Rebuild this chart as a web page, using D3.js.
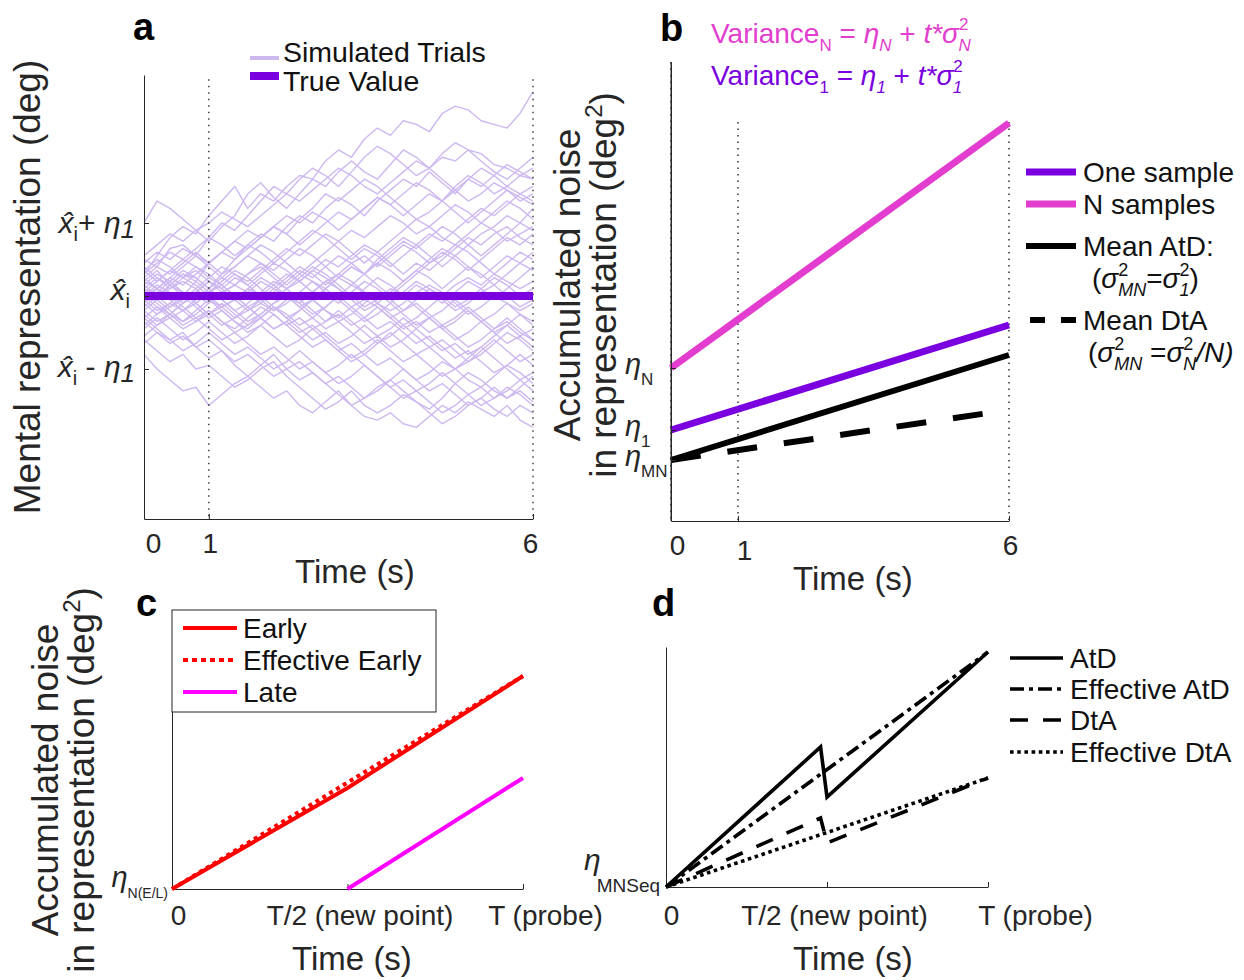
<!DOCTYPE html>
<html><head><meta charset="utf-8">
<script src="https://cdn.jsdelivr.net/npm/d3@7"></script>
<style>body{margin:0;background:#fff}svg{font-family:"Liberation Sans",Arial,sans-serif}</style>
</head><body><svg id="c" width="1244" height="980"></svg>
<script>
// ---------- DATA ----------
// Panel a: simulated trials (units of eta_1 * 100), sampled at these times (s)
const aTimes = [0,0.2,0.4,0.6,0.8,1,1.2,1.4,1.6,1.8,2,2.2,2.4,2.6,2.8,3,3.2,3.4,3.6,3.8,4,4.2,4.4,4.6,4.8,5,5.2,5.4,5.6,5.8,6];
const aTrials = [
[30,55,80,95,85,110,130,150,120,140,130,150,165,160,185,200,190,215,230,220,240,235,225,250,260,255,240,235,230,250,280],
[100,130,120,105,90,75,95,110,140,155,135,120,140,160,150,170,185,170,160,180,200,190,175,195,210,200,185,170,160,175,190],
[50,40,65,70,55,80,100,90,110,130,150,140,160,175,165,150,170,190,205,195,180,165,175,190,185,200,195,180,175,165,160],
[-80,-100,-115,-130,-125,-150,-135,-120,-110,-125,-140,-130,-150,-160,-145,-130,-150,-165,-170,-160,-175,-180,-165,-150,-160,-145,-155,-165,-150,-170,-180],
[-60,-75,-90,-80,-100,-95,-110,-125,-115,-100,-90,-110,-125,-140,-155,-145,-130,-150,-160,-150,-135,-145,-160,-175,-165,-150,-140,-155,-165,-150,-160],
[-30,-45,-60,-50,-70,-85,-75,-95,-110,-95,-80,-100,-115,-105,-120,-135,-150,-140,-125,-115,-130,-145,-155,-140,-120,-105,-115,-130,-140,-125,-110],
[20,35,15,0,20,45,60,50,70,85,75,95,110,100,120,135,125,110,130,145,160,150,170,155,140,160,175,165,150,140,130],
[10,-5,15,30,25,10,30,50,65,80,95,85,105,120,140,130,145,160,150,135,120,105,115,130,150,165,155,140,150,165,175],
[0,15,5,-10,5,20,10,-5,-20,-10,5,20,35,25,40,55,45,30,50,65,80,70,55,40,55,70,85,95,110,100,120],
[-10,-25,-15,0,-15,-30,-20,-35,-50,-40,-55,-70,-60,-45,-60,-75,-65,-80,-95,-85,-100,-115,-105,-90,-100,-115,-125,-110,-95,-105,-120],
[25,40,30,45,60,45,30,40,55,70,60,45,30,45,60,75,90,80,95,110,100,85,95,110,125,115,100,115,130,120,105],
[-20,-5,-20,-35,-25,-10,5,-5,10,25,15,0,-15,-5,10,-5,-20,-35,-25,-10,5,20,10,-5,-20,-10,5,15,0,-15,-5],
[40,25,10,25,15,0,-15,-5,10,0,-15,-30,-20,-5,10,25,15,30,45,35,20,35,50,65,55,40,25,40,55,45,60],
[-45,-30,-45,-60,-50,-35,-50,-65,-55,-40,-25,-40,-55,-70,-60,-75,-90,-80,-65,-50,-65,-80,-70,-85,-100,-90,-75,-60,-75,-90,-80],
[5,20,35,25,40,30,15,30,20,35,50,65,55,70,85,75,60,45,60,75,90,105,95,80,70,85,100,90,75,85,95],
[-5,-20,-10,5,-10,-25,-40,-30,-15,-30,-45,-35,-20,-5,-20,-35,-25,-10,5,-10,-25,-40,-30,-45,-60,-50,-35,-50,-65,-55,-70],
[15,0,-15,-5,10,25,15,0,-15,-30,-45,-35,-50,-40,-55,-70,-85,-75,-60,-75,-90,-80,-95,-110,-100,-85,-70,-85,-100,-115,-105],
[30,45,60,50,65,80,70,55,70,60,45,60,75,90,80,65,50,65,55,40,55,70,85,75,90,105,120,110,125,140,150],
[-25,-40,-30,-45,-35,-20,-35,-50,-40,-25,-10,5,-10,-25,-15,0,15,5,-10,5,20,35,25,10,25,40,30,15,30,45,35],
[10,25,15,30,20,5,20,35,25,10,-5,10,25,40,30,15,0,-15,-5,10,0,-15,-30,-20,-5,-20,-35,-25,-10,-25,-40],
[-15,0,15,5,-10,-25,-15,-30,-20,-5,-20,-10,5,20,10,25,40,30,15,0,15,30,45,60,50,35,50,65,80,70,85],
[35,20,35,50,40,25,40,30,15,30,45,35,20,5,20,10,-5,10,25,15,0,15,5,-10,5,20,10,-5,10,25,40],
[-35,-50,-65,-55,-70,-60,-75,-90,-80,-95,-110,-100,-90,-105,-120,-110,-125,-140,-130,-115,-100,-115,-130,-120,-135,-150,-140,-125,-140,-130,-145],
[0,-15,-30,-20,-35,-25,-10,-25,-40,-30,-15,-30,-45,-60,-50,-65,-55,-40,-55,-45,-30,-45,-60,-75,-65,-80,-70,-55,-40,-55,-45],
[20,10,25,40,55,45,60,75,65,80,95,110,100,115,105,90,105,120,135,125,140,155,145,130,145,160,150,165,180,170,160],
[-55,-40,-25,-35,-20,-5,-20,-35,-45,-30,-15,-25,-40,-30,-15,0,-15,-30,-45,-35,-50,-65,-55,-70,-85,-75,-90,-105,-95,-80,-95],
[45,60,50,65,55,40,25,40,55,45,30,15,30,20,5,-10,5,20,10,-5,-20,-10,-25,-40,-30,-15,-30,-45,-35,-50,-60],
[-10,5,20,35,25,10,25,15,30,45,35,50,65,55,40,25,40,30,45,60,75,65,80,95,85,70,55,70,85,100,90],
[15,30,20,5,-10,5,-5,-20,-35,-25,-10,0,-15,-30,-45,-35,-50,-65,-55,-70,-60,-45,-30,-45,-35,-20,-35,-50,-40,-25,-35],
[-40,-25,-10,-20,-5,10,-5,-20,-10,5,20,10,-5,-20,-35,-25,-40,-30,-15,-30,-45,-35,-50,-40,-55,-70,-60,-45,-30,-45,-60],
[5,-10,-25,-40,-30,-45,-60,-50,-65,-80,-70,-85,-100,-90,-105,-95,-80,-95,-110,-125,-115,-130,-120,-105,-120,-135,-125,-140,-130,-115,-130],
[25,10,25,15,30,45,60,75,90,80,95,85,70,85,100,115,105,120,135,125,110,125,140,130,115,100,115,130,145,135,125],
[-20,-35,-25,-10,5,20,10,25,15,0,15,30,20,35,25,10,-5,-20,-10,-25,-40,-30,-15,0,-15,-5,10,25,15,0,10],
[0,10,-5,-20,-10,5,15,0,-15,-5,10,25,40,30,15,30,45,55,40,55,70,60,45,55,70,60,45,30,45,60,50],
[-65,-50,-60,-75,-65,-50,-65,-80,-70,-85,-100,-90,-75,-90,-105,-120,-110,-95,-110,-125,-140,-130,-145,-160,-150,-135,-150,-140,-125,-135,-150],
[55,70,85,75,90,100,115,105,95,110,125,140,130,145,160,175,165,150,140,155,170,185,175,160,145,130,140,155,145,130,140],
[10,0,10,20,10,-5,-15,-5,5,20,10,0,-10,5,20,30,20,5,-10,-20,-10,5,15,5,-10,-25,-15,0,-10,-20,-10],
[-30,-15,-25,-10,0,-10,5,15,5,-10,-20,-5,5,-5,-20,-30,-15,-5,-15,-30,-20,-5,10,0,15,25,15,30,20,10,20],
[35,50,40,25,35,20,5,15,30,40,25,10,20,35,50,40,55,70,60,45,30,45,35,50,65,80,70,85,95,80,70],
[-5,10,0,-15,-30,-20,-35,-45,-30,-15,-25,-40,-30,-45,-35,-20,-35,-50,-65,-55,-40,-55,-70,-60,-75,-90,-80,-65,-50,-60,-75]
];
const aTrueTimes = [0, 6];
const aTrueValue = [0, 0];
const aXTicks = [0, 1, 6];
const aYTicks = [-1, 0, 1];

// Panel b: accumulated noise (arbitrary units)
const bTimes = [0, 6];
const bOneSample = [9.1, 19.6];
const bNSamples = [15.3, 39.8];
const bMeanAtD = [6.1, 16.6];
const bMeanDtA = [6.1, 11.1];
const bXTicks = [0, 1, 6];
const bYTicks = [6.1, 9.1, 15.3];
const bYTickSubs = ["MN", "1", "N"];

// Panel c
const cTimes = [0, 0.5, 1];
const cEarly = [0, 10.1, 21.3];
const cEffTimes = [0, 1];
const cEffEarly = [0, 21.3];
const cLateTimes = [0.5, 1];
const cLate = [0, 11.1];
const cXTicks = [0, 0.5, 1];
const cdXTickLabels = ["0", "T/2 (new point)", "T (probe)"];

// Panel d
const dTimes = [0, 0.48, 0.5, 1];
const dAtD = [0, 14.0, 9.0, 23.5];
const dDtA = [0, 6.9, 4.4, 10.9];
const dEffTimes = [0, 1];
const dEffAtD = [0, 23.5];
const dEffDtA = [0, 10.9];

// ---------- DRAW ----------
const svg = d3.select("#c");
const AX = "#262626";
const PURPLE = "#7a00e0", PINK = "#e23dce", LIGHT = "#cdb8f0";

function rich(parent, x, y, parts, opt = {}) {
  const t = parent.append("text").attr("x", x).attr("y", y)
    .attr("font-size", opt.size || 28).attr("fill", opt.fill || AX)
    .attr("text-anchor", opt.anchor || "start");
  if (opt.transform) t.attr("transform", opt.transform);
  let cur = 0;
  parts.forEach(p => {
    const s = t.append("tspan").text(p.t);
    const target = p.dy || 0;
    if (target !== cur) s.attr("dy", target - cur);
    cur = target;
    if (p.dx) s.attr("dx", p.dx);
    if (p.fs) s.attr("font-size", p.fs);
    if (p.i) s.attr("font-style", "italic");
  });
  return t;
}
function styleAxis(g) {
  g.selectAll("path,line").attr("stroke", AX).attr("stroke-width", 1);
  g.selectAll("text").attr("fill", AX).attr("font-family", "Liberation Sans, Arial, sans-serif");
}
function panelLetter(x, y, s) {
  svg.append("text").attr("x", x).attr("y", y).attr("font-size", 38)
    .attr("font-weight", "bold").attr("fill", "#000").text(s);
}
function lineXY(xs, ys, xsc, ysc) {
  return d3.line().x((d, i) => xsc(xs[i])).y(d => ysc(d))(ys);
}
function twoLineYLabel(tx, ty) {
  const yl = svg.append("text").attr("transform", `translate(${tx},${ty}) rotate(-90)`).attr("text-anchor", "middle").attr("font-size", 37).attr("fill", AX);
  yl.append("tspan").attr("x", 0).attr("y", 0).text("Accumulated noise");
  const l2 = yl.append("tspan").attr("x", 0).attr("y", 36);
  l2.append("tspan").text("in representation (deg");
  l2.append("tspan").attr("dy", -14).attr("font-size", 24).text("2");
  l2.append("tspan").attr("dy", 14).text(")");
}

// ===== Panel a =====
{
  const x = d3.scaleLinear().domain([0, 6]).range([144, 533]);
  const y = d3.scaleLinear().domain([-3.055, 3.027]).range([519, 75]);
  const g = svg.append("g");
  aTrials.forEach(tr => {
    g.append("path").attr("d", d3.line().x((d, i) => x(aTimes[i])).y(d => y(d / 100))(tr.slice(0, aTimes.length)))
      .attr("fill", "none").attr("stroke", LIGHT).attr("stroke-width", 1.4).attr("stroke-linejoin", "round");
  });
  [1, 6].forEach(t => g.append("line").attr("x1", x(t)).attr("x2", x(t)).attr("y1", y(2.97)).attr("y2", y(-3.055))
    .attr("stroke", "#222").attr("stroke-width", 1.3).attr("stroke-dasharray", "1.5,5"));
  g.append("path").attr("d", lineXY(aTrueTimes, aTrueValue, x, y)).attr("stroke", PURPLE).attr("stroke-width", 8).attr("fill", "none");
  const xa = g.append("g").attr("transform", `translate(0,${y(-3.055)})`)
    .call(d3.axisBottom(x).tickValues(aXTicks).tickSizeInner(-5).tickSizeOuter(0).tickPadding(14).tickFormat(d3.format("d")));
  styleAxis(xa);
  const aOff = [9, 1, -3];
  xa.selectAll("text").attr("font-size", 28).attr("dx", (d, i) => aOff[i]);
  const ya = g.append("g").attr("transform", `translate(${x(0)},0)`)
    .call(d3.axisLeft(y).tickValues(aYTicks).tickSizeInner(-5).tickSizeOuter(0).tickFormat(""));
  styleAxis(ya);
  const xh = "x\u0302";
  rich(g, 135, y(1) + 10, [{t: xh, i: true}, {t: "i", fs: 20, dy: 8}, {t: "+ ", dy: 0}, {t: "\u03B7", i: true}, {t: "1", i: true, dy: 5, fs: 26}], {anchor: "end", size: 30});
  rich(g, 130, y(0) + 4, [{t: xh, i: true}, {t: "i", fs: 20, dy: 8}], {anchor: "end", size: 30});
  rich(g, 135, y(-1) + 8, [{t: xh, i: true}, {t: "i", fs: 20, dy: 8}, {t: " - ", dy: 0}, {t: "\u03B7", i: true}, {t: "1", i: true, dy: 5, fs: 26}], {anchor: "end", size: 30});
  svg.append("text").attr("transform", "translate(40,287) rotate(-90)").attr("text-anchor", "middle")
    .attr("font-size", 37).attr("fill", AX).text("Mental representation (deg)");
  svg.append("text").attr("x", 355).attr("y", 583).attr("text-anchor", "middle").attr("font-size", 33).attr("fill", AX).text("Time (s)");
  panelLetter(133, 40, "a");
  g.append("line").attr("x1", 250).attr("x2", 279).attr("y1", 58).attr("y2", 58).attr("stroke", LIGHT).attr("stroke-width", 4);
  g.append("line").attr("x1", 250).attr("x2", 279).attr("y1", 76).attr("y2", 76).attr("stroke", PURPLE).attr("stroke-width", 8);
  g.append("text").attr("x", 283).attr("y", 62).attr("font-size", 28.5).attr("fill", "#111").text("Simulated Trials");
  g.append("text").attr("x", 283).attr("y", 91).attr("font-size", 28.5).attr("fill", "#111").text("True Value");
}

// ===== Panel b =====
{
  const x = d3.scaleLinear().domain([0, 1, 6]).range([671, 738, 1009]);
  const y = d3.scaleLinear().domain([0, 45.9]).range([521, 62]);
  const g = svg.append("g");
  g.append("line").attr("x1", x(0)).attr("x2", x(0)).attr("y1", y(45.9)).attr("y2", y(0)).attr("stroke", AX).attr("stroke-width", 1);
  [[0, 45.9], [1, 39.9], [6, 39.9]].forEach(([t, top]) => g.append("line").attr("x1", x(t)).attr("x2", x(t)).attr("y1", y(top)).attr("y2", y(0))
    .attr("stroke", "#111").attr("stroke-width", 1.3).attr("stroke-dasharray", "1.5,5"));
  g.append("path").attr("d", lineXY(bTimes, bNSamples, x, y)).attr("stroke", PINK).attr("stroke-width", 7).attr("fill", "none");
  g.append("path").attr("d", lineXY(bTimes, bOneSample, x, y)).attr("stroke", PURPLE).attr("stroke-width", 7).attr("fill", "none");
  g.append("path").attr("d", lineXY(bTimes, bMeanAtD, x, y)).attr("stroke", "#000").attr("stroke-width", 6).attr("fill", "none");
  g.append("path").attr("d", lineXY(bTimes, bMeanDtA, x, y)).attr("stroke", "#000").attr("stroke-width", 6).attr("fill", "none").attr("stroke-dasharray", "30,27");
  const xa = g.append("g").attr("transform", `translate(0,${y(0)})`)
    .call(d3.axisBottom(x).tickValues(bXTicks).tickSizeInner(-5).tickSizeOuter(0).tickPadding(14).tickFormat(d3.format("d")));
  styleAxis(xa);
  const bOff = [6, 6, 1], bDy = [0, 5, 0];
  xa.selectAll("text").attr("font-size", 28).attr("dx", (d, i) => bOff[i]).attr("transform", (d, i) => `translate(0,${bDy[i]})`);
  const ya = g.append("g").attr("transform", `translate(${x(0)},0)`)
    .call(d3.axisLeft(y).tickValues(bYTicks).tickSizeInner(-5).tickSizeOuter(0).tickFormat(""));
  styleAxis(ya);
  bYTicks.forEach((v, i) => {
    rich(g, 625, y(v) + 6, [{t: "\u03B7", i: true}, {t: bYTickSubs[i], fs: 17, dy: 11}], {size: 29});
  });
  twoLineYLabel(580, 285);
  svg.append("text").attr("x", 853).attr("y", 590).attr("text-anchor", "middle").attr("font-size", 33).attr("fill", AX).text("Time (s)");
  panelLetter(660, 41, "b");
  rich(svg, 711, 43, [{t: "Variance"}, {t: "N", fs: 17, dy: 8}, {t: " = ", dy: 0}, {t: "\u03B7", i: true}, {t: "N", i: true, fs: 17, dy: 8},
    {t: " + ", dy: 0}, {t: "t*\u03C3", i: true}, {t: "2", fs: 17, dy: -13}, {t: "N", i: true, fs: 17, dx: -10, dy: 8}], {fill: PINK, size: 28});
  rich(svg, 711, 85, [{t: "Variance"}, {t: "1", fs: 17, dy: 8}, {t: " = ", dy: 0}, {t: "\u03B7", i: true}, {t: "1", i: true, fs: 17, dy: 8},
    {t: " + ", dy: 0}, {t: "t*\u03C3", i: true}, {t: "2", fs: 17, dy: -13}, {t: "1", i: true, fs: 17, dx: -10, dy: 8}], {fill: PURPLE, size: 28});
  const L = svg.append("g");
  L.append("line").attr("x1", 1026).attr("x2", 1076).attr("y1", 172).attr("y2", 172).attr("stroke", PURPLE).attr("stroke-width", 7);
  L.append("line").attr("x1", 1026).attr("x2", 1076).attr("y1", 204).attr("y2", 204).attr("stroke", PINK).attr("stroke-width", 7);
  L.append("line").attr("x1", 1026).attr("x2", 1076).attr("y1", 246).attr("y2", 246).attr("stroke", "#000").attr("stroke-width", 6);
  L.append("line").attr("x1", 1030).attr("x2", 1076).attr("y1", 320).attr("y2", 320).attr("stroke", "#000").attr("stroke-width", 6).attr("stroke-dasharray", "15,16");
  L.append("text").attr("x", 1083).attr("y", 182).attr("font-size", 28).attr("fill", "#111").text("One sample");
  L.append("text").attr("x", 1083).attr("y", 214).attr("font-size", 28).attr("fill", "#111").text("N samples");
  L.append("text").attr("x", 1083).attr("y", 256).attr("font-size", 28).attr("fill", "#111").text("Mean AtD:");
  rich(L, 1092, 288, [{t: "("}, {t: "\u03C3", i: true}, {t: "2", fs: 18, dy: -12}, {t: "MN", i: true, fs: 18, dx: -10, dy: 8},
    {t: "=", dy: 0}, {t: "\u03C3", i: true}, {t: "2", fs: 18, dy: -12}, {t: "1", i: true, fs: 18, dx: -10, dy: 8}, {t: ")", dy: 0}], {size: 28, fill: "#111"});
  L.append("text").attr("x", 1083).attr("y", 330).attr("font-size", 28).attr("fill", "#111").text("Mean DtA");
  rich(L, 1088, 362, [{t: "("}, {t: "\u03C3", i: true}, {t: "2", fs: 18, dy: -12}, {t: "MN", i: true, fs: 18, dx: -10, dy: 8},
    {t: " =", dy: 0}, {t: "\u03C3", i: true}, {t: "2", fs: 18, dy: -12}, {t: "N", i: true, fs: 18, dx: -10, dy: 8}, {t: "/N)", i: true, dy: 0}], {size: 28, fill: "#111"});
}

// ===== Panel c =====
{
  const x = d3.scaleLinear().domain([0, 1]).range([172, 523]);
  const y = d3.scaleLinear().domain([0, 24.9]).range([889, 640]);
  const g = svg.append("g");
  const xa = g.append("g").attr("transform", `translate(0,${y(0)})`)
    .call(d3.axisBottom(x).tickValues(cXTicks).tickSizeInner(-5).tickSizeOuter(0).tickPadding(16).tickFormat((d, i) => cdXTickLabels[i]));
  styleAxis(xa);
  const cOff = [6, 12, 22];
  xa.selectAll("text").attr("font-size", 28).attr("dx", (d, i) => cOff[i]);
  const ya = g.append("g").attr("transform", `translate(${x(0)},0)`).call(d3.axisLeft(y).tickValues([0]).tickSizeInner(0).tickSizeOuter(0).tickFormat(""));
  styleAxis(ya);
  g.append("path").attr("d", lineXY(cTimes, cEarly, x, y)).attr("stroke", "#ff0000").attr("stroke-width", 4).attr("fill", "none");
  g.append("path").attr("d", lineXY(cEffTimes, cEffEarly, x, y)).attr("stroke", "#ff0000").attr("stroke-width", 4).attr("fill", "none").attr("stroke-dasharray", "4,4");
  g.append("path").attr("d", lineXY(cLateTimes, cLate, x, y)).attr("stroke", "#ff00ff").attr("stroke-width", 4).attr("fill", "none");
  rich(g, 168, y(0) - 2, [{t: "\u03B7", i: true}, {t: "N(E/L)", fs: 14, dy: 11}], {size: 29, anchor: "end"});
  const L = g.append("g");
  L.append("rect").attr("x", 172).attr("y", 610).attr("width", 264).attr("height", 102).attr("fill", "#fff").attr("stroke", AX).attr("stroke-width", 1);
  L.append("line").attr("x1", 183).attr("x2", 237).attr("y1", 628).attr("y2", 628).attr("stroke", "#ff0000").attr("stroke-width", 4);
  L.append("line").attr("x1", 183).attr("x2", 237).attr("y1", 660).attr("y2", 660).attr("stroke", "#ff0000").attr("stroke-width", 4).attr("stroke-dasharray", "5,4");
  L.append("line").attr("x1", 183).attr("x2", 237).attr("y1", 692).attr("y2", 692).attr("stroke", "#ff00ff").attr("stroke-width", 4);
  L.append("text").attr("x", 243).attr("y", 638).attr("font-size", 28).attr("fill", "#111").text("Early");
  L.append("text").attr("x", 243).attr("y", 670).attr("font-size", 28).attr("fill", "#111").text("Effective Early");
  L.append("text").attr("x", 243).attr("y", 702).attr("font-size", 28).attr("fill", "#111").text("Late");
  twoLineYLabel(58, 780);
  svg.append("text").attr("x", 352).attr("y", 970).attr("text-anchor", "middle").attr("font-size", 33).attr("fill", AX).text("Time (s)");
  panelLetter(136, 616, "c");
}

// ===== Panel d =====
{
  const x = d3.scaleLinear().domain([0, 1]).range([666, 988]);
  const y = d3.scaleLinear().domain([0, 24]).range([887, 647]);
  const g = svg.append("g");
  const xa = g.append("g").attr("transform", `translate(0,${y(0)})`)
    .call(d3.axisBottom(x).tickValues(cXTicks).tickSizeInner(-5).tickSizeOuter(0).tickPadding(18).tickFormat((d, i) => cdXTickLabels[i]));
  styleAxis(xa);
  const dOff = [5, 7, 47];
  xa.selectAll("text").attr("font-size", 28).attr("dx", (d, i) => dOff[i]);
  const ya = g.append("g").attr("transform", `translate(${x(0)},0)`).call(d3.axisLeft(y).tickValues([0]).tickSizeInner(0).tickSizeOuter(0).tickFormat(""));
  styleAxis(ya);
  const W = 3.6;
  g.append("path").attr("d", lineXY(dTimes, dAtD, x, y)).attr("stroke", "#000").attr("stroke-width", W).attr("fill", "none");
  g.append("path").attr("d", lineXY(dEffTimes, dEffAtD, x, y)).attr("stroke", "#000").attr("stroke-width", W).attr("fill", "none").attr("stroke-dasharray", "14,5,4,5");
  g.append("path").attr("d", lineXY(dTimes, dDtA, x, y)).attr("stroke", "#000").attr("stroke-width", W).attr("fill", "none").attr("stroke-dasharray", "18,15");
  g.append("path").attr("d", lineXY(dEffTimes, dEffDtA, x, y)).attr("stroke", "#000").attr("stroke-width", W).attr("fill", "none").attr("stroke-dasharray", "3.6,3.6");
  rich(g, 584, y(0) - 17, [{t: "\u03B7", i: true}, {t: "MNSeq", fs: 19, dy: 22, dx: -4}], {size: 30});
  const L = g.append("g");
  const items = [["AtD", null], ["Effective AtD", "14,5,4,5"], ["DtA", "18,15"], ["Effective DtA", "3.6,3.6"]];
  const ly = [658, 689, 720, 752];
  items.forEach(([name, dash], i) => {
    const ln = L.append("line").attr("x1", 1010).attr("x2", 1063).attr("y1", ly[i]).attr("y2", ly[i]).attr("stroke", "#000").attr("stroke-width", W);
    if (dash) ln.attr("stroke-dasharray", dash);
    L.append("text").attr("x", 1070).attr("y", ly[i] + 10).attr("font-size", 28).attr("fill", "#111").text(name);
  });
  svg.append("text").attr("x", 853).attr("y", 970).attr("text-anchor", "middle").attr("font-size", 33).attr("fill", AX).text("Time (s)");
  panelLetter(652, 616, "d");
}
</script></body></html>
